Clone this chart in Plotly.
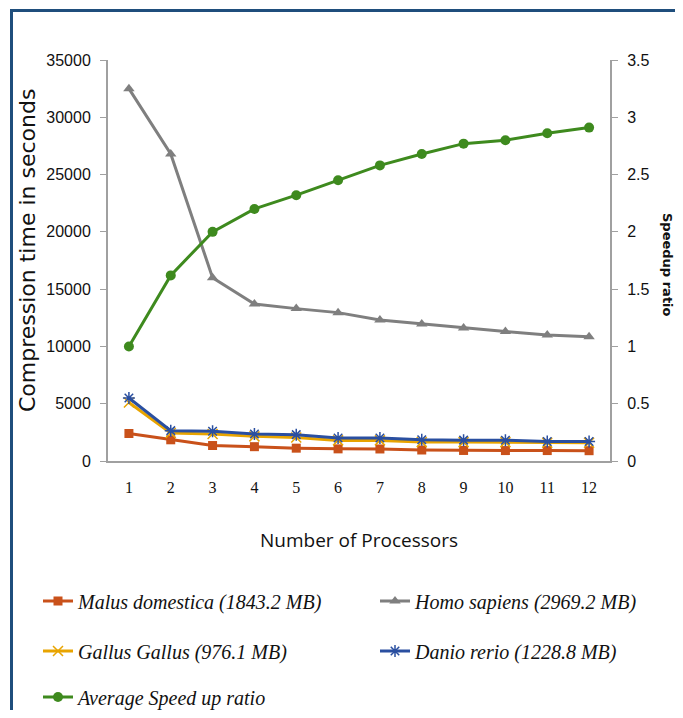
import plotly.graph_objects as go

processors = [1, 2, 3, 4, 5, 6, 7, 8, 9, 10, 11, 12]
malus = [2400, 1850, 1350, 1250, 1120, 1060, 1050, 960, 920, 910, 910, 900]
homo = [32500, 26800, 16000, 13700, 13300, 12950, 12300, 11950, 11600, 11300, 11000, 10850]
gallus = [5100, 2450, 2350, 2150, 2050, 1800, 1800, 1650, 1650, 1650, 1600, 1600]
danio = [5500, 2650, 2600, 2350, 2300, 2000, 2000, 1850, 1820, 1810, 1700, 1700]
speedup = [1.0, 1.62, 2.0, 2.2, 2.32, 2.45, 2.58, 2.68, 2.77, 2.8, 2.86, 2.91]

OFF = 8  # page body margin
W, H = 667, 702
L, R, T, B = 100, 65, 52, 249
pw, ph = W - L - R, H - T - B


def px(x):  # page x -> paper
    return (x - OFF - L) / pw


def py(y):  # page y -> paper
    return (H - B - (y - OFF)) / ph


leg_font = dict(family="Liberation Serif", size=20, color="#111111")

fig = go.Figure()
fig.add_trace(go.Scatter(x=processors, y=malus, name="<i>Malus domestica (1843.2 MB)</i>",
                         mode="lines+markers", line=dict(color="#C9511A", width=3),
                         marker=dict(symbol="square", size=9, color="#C9511A"), legend="legend"))
fig.add_trace(go.Scatter(x=processors, y=homo, name="<i>Homo sapiens (2969.2 MB)</i>",
                         mode="lines+markers", line=dict(color="#7F7F7F", width=3),
                         marker=dict(symbol="triangle-up", size=10, color="#7F7F7F"), legend="legend2"))
fig.add_trace(go.Scatter(x=processors, y=gallus, name="<i>Gallus Gallus (976.1 MB)</i>",
                         mode="lines+markers", line=dict(color="#E8A400", width=3),
                         marker=dict(symbol="x-thin-open", size=10, color="#E8A400",
                                     line=dict(width=1.5, color="#E8A400")),
                         legend="legend3"))
fig.add_trace(go.Scatter(x=processors, y=danio, name="<i>Danio rerio (1228.8 MB)</i>",
                         mode="lines+markers", line=dict(color="#2A4FA0", width=3),
                         marker=dict(symbol="asterisk-open", size=10, color="#2A4FA0",
                                     line=dict(width=1.5, color="#2A4FA0")),
                         legend="legend4"))
fig.add_trace(go.Scatter(x=processors, y=speedup, name="<i>Average Speed up ratio</i>",
                         mode="lines+markers", line=dict(color="#3E8A1E", width=3),
                         marker=dict(symbol="circle", size=10, color="#3E8A1E"), yaxis="y2",
                         legend="legend5"))

tick_font = dict(family="Liberation Sans Narrow, Liberation Sans", size=16, color="#111111")

leg_common = dict(orientation="h", xanchor="left", yanchor="middle", xref="paper", yref="paper",
                  font=leg_font, bgcolor="rgba(0,0,0,0)", itemclick=False)

col1, col2 = 38, 375
row1, row2, row3 = 601, 651, 697

fig.update_layout(
    width=W, height=H,
    margin=dict(l=L, r=R, t=T, b=B, autoexpand=False),
    paper_bgcolor="white", plot_bgcolor="white",
    showlegend=True,
    legend=dict(x=px(col1), y=py(row1), **leg_common),
    legend2=dict(x=px(col2), y=py(row1), **leg_common),
    legend3=dict(x=px(col1), y=py(row2), **leg_common),
    legend4=dict(x=px(col2), y=py(row2), **leg_common),
    legend5=dict(x=px(col1), y=py(row3), **leg_common),
    xaxis=dict(range=[0.5, 12.5], tickvals=processors, ticktext=[str(p) for p in processors],
               showline=True, linecolor="#A0A0A0", linewidth=2, showgrid=False, zeroline=False,
               ticks="", ticklabelstandoff=11,
               tickfont=dict(family="Liberation Serif", size=16, color="#111111"),
               title=dict(text="Number of Processors", font=dict(family="Open Sans", size=19, color="#111111"),
                          standoff=38)),
    yaxis=dict(range=[0, 35000], dtick=5000, tickformat="d", showline=True, linecolor="#A0A0A0",
               linewidth=2, showgrid=False, zeroline=False, ticks="outside", ticklen=6,
               tickcolor="#A0A0A0", tickfont=tick_font, ticklabelstandoff=6),
    yaxis2=dict(range=[0, 3.5], dtick=0.5, overlaying="y", side="right", showline=True,
                linecolor="#A0A0A0", linewidth=2, showgrid=False, zeroline=False, ticks="outside",
                ticklen=6, tickcolor="#A0A0A0", tickfont=tick_font, ticklabelstandoff=6),
    annotations=[
        dict(text="Compression time in seconds", xref="paper", yref="paper", x=px(27), y=py(251),
             xanchor="center", yanchor="middle",
             textangle=-90, showarrow=False, font=dict(family="DejaVu Sans", size=22, color="#111111")),
        dict(text="<b>Speedup ratio</b>", xref="paper", yref="paper", x=px(668), y=py(265),
             xanchor="center", yanchor="middle",
             textangle=90, showarrow=False, font=dict(family="DejaVu Sans", size=13, color="#111111")),
    ],
    shapes=[
        dict(type="line", xref="paper", yref="paper", x0=px(11.5), x1=px(11.5), y0=py(9), y1=py(740),
             line=dict(color="#1F4E7C", width=3)),
        dict(type="line", xref="paper", yref="paper", x0=px(10), x1=px(720), y0=py(10.5), y1=py(10.5),
             line=dict(color="#1F4E7C", width=3)),
    ],
)

fig.write_html("out.html")
